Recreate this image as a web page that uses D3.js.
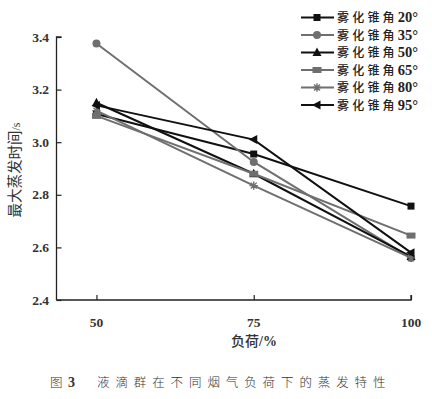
<!DOCTYPE html>
<html><head><meta charset="utf-8">
<script src="https://cdn.jsdelivr.net/npm/d3@7"></script>
<style>body{margin:0;background:#fff;}svg{display:block;}</style>
</head><body><div id="c"></div>
<script>
const loads = [50, 75, 100];
const seriesPrefix = "雾化锥角";
const seriesAngles = ["20°","35°","50°","65°","80°","95°"];
const v20 = [3.107, 2.955, 2.757];
const v35 = [3.375, 2.925, 2.56];
const v50 = [3.15, 2.88, 2.565];
const v65 = [3.10, 2.88, 2.645];
const v80 = [3.12, 2.835, 2.56];
const v95 = [3.14, 3.01, 2.58];
const yTicks = [2.4, 2.6, 2.8, 3.0, 3.2, 3.4];
const xTicks = [50, 75, 100];
const seriesValues = [v20, v35, v50, v65, v80, v95];
const colors = ["#111","#6f6f6f","#111","#6f6f6f","#6f6f6f","#111"];
const markers = ["square","circle","triUp","rect","star","triLeft"];

const W = 432, H = 399;
const svg = d3.select("#c").append("svg").attr("width", W).attr("height", H);
const x = d3.scaleLinear().domain([43.65, 100]).range([56.5, 411]);
const y = d3.scaleLinear().domain([2.4, 3.4]).range([300, 37]);
const font = "'Liberation Serif','Noto Sans CJK SC',serif";
const cjk = "'Noto Sans CJK SC','Liberation Serif',serif";

// axes
const gy = svg.append("g").attr("transform", "translate(56.5,0)")
  .call(d3.axisRight(y).tickValues(yTicks).tickSize(5).tickFormat(""));
gy.select(".domain").attr("d", `M5,${y(3.4)}H0V${y(2.4)}`).attr("stroke","#222").attr("stroke-width",1.3);
gy.selectAll(".tick line").attr("stroke","#222").attr("stroke-width",1.2);
svg.append("g").selectAll("text").data(yTicks).join("text")
  .attr("x", 49).attr("y", d => y(d) + 4.5).attr("text-anchor","end")
  .attr("font-family", font).attr("font-size", 13.5).attr("font-weight","bold").attr("fill","#333")
  .text(d => d.toFixed(1));

const gx = svg.append("g").attr("transform", "translate(0,300)")
  .call(d3.axisTop(x).tickValues(xTicks).tickSize(5).tickFormat(""));
gx.select(".domain").attr("d", `M56.5,0H${x(100)}V-5`).attr("stroke","#222").attr("stroke-width",1.3);
gx.selectAll(".tick line").attr("stroke","#222").attr("stroke-width",1.2);
svg.append("g").selectAll("text").data(xTicks).join("text")
  .attr("x", d => x(d)).attr("y", 327).attr("text-anchor","middle")
  .attr("font-family", font).attr("font-size", 13.5).attr("font-weight","bold").attr("fill","#333")
  .text(d => d);

const xt = svg.append("text").attr("x", 254).attr("y", 346).attr("text-anchor","middle")
  .attr("font-family", cjk).attr("font-size", 14).attr("fill","#333");
xt.append("tspan").attr("font-weight","500").text("负荷");
xt.append("tspan").attr("font-family", font).attr("font-weight","bold").text("/%");

const yt = svg.append("text").attr("transform","translate(20,170) rotate(-90)").attr("text-anchor","middle")
  .attr("font-family", cjk).attr("font-size", 14.5).attr("fill","#333");
yt.append("tspan").text("最大蒸发时间");
yt.append("tspan").attr("font-family", font).attr("font-size", 12).text("/s");

const cap = svg.append("text").attr("x", 50).attr("y", 387)
  .attr("font-family", cjk).attr("font-size", 12.5).attr("font-weight","300").attr("fill","#333");
cap.append("tspan").text("图");
cap.append("tspan").attr("x", 68).attr("font-family", font).attr("font-weight","bold").attr("font-size", 14).text("3");
cap.append("tspan").attr("x", 97).attr("letter-spacing", 5.9).text("液滴群在不同烟气负荷下的蒸发特性");

// asterisk symbol
const asterisk = { draw(ctx, size) { const r = Math.sqrt(size)/1.6;
  for (let i=0;i<4;i++){ const a=i*Math.PI/4; ctx.moveTo(-r*Math.cos(a),-r*Math.sin(a)); ctx.lineTo(r*Math.cos(a), r*Math.sin(a)); } } };

function drawMarker(g, type, cx, cy, color) {
  const s = 3.5;
  if (type === "square") g.append("rect").attr("x", cx-s).attr("y", cy-s).attr("width", 2*s).attr("height", 2*s).attr("fill", color);
  else if (type === "rect") g.append("rect").attr("x", cx-4.5).attr("y", cy-3).attr("width", 9).attr("height", 6).attr("fill", color);
  else if (type === "circle") g.append("circle").attr("cx", cx).attr("cy", cy).attr("r", 4).attr("fill", color);
  else if (type === "triUp") g.append("path").attr("d", `M${cx},${cy-5}L${cx+4.5},${cy+3.5}L${cx-4.5},${cy+3.5}Z`).attr("fill", color);
  else if (type === "triLeft") g.append("path").attr("d", `M${cx-5},${cy}L${cx+3.5},${cy-4.5}L${cx+3.5},${cy+4.5}Z`).attr("fill", color);
  else if (type === "star") g.append("path").attr("d", d3.symbol(asterisk, 45)()).attr("transform", `translate(${cx},${cy})`)
    .attr("fill","none").attr("stroke", color).attr("stroke-width", 1.4);
}

const line = d3.line().x((d,i) => x(loads[i])).y(d => y(d));
seriesValues.forEach((vals, si) => {
  const g = svg.append("g");
  g.append("path").attr("d", line(vals)).attr("fill","none").attr("stroke", colors[si]).attr("stroke-width", 2);
  vals.forEach((v, i) => drawMarker(g, markers[si], x(loads[i]), y(v), colors[si]));
});

// legend
const lg = svg.append("g");
seriesAngles.forEach((ang, i) => {
  const ly = 17.5 + i * 17.5;
  lg.append("line").attr("x1", 301).attr("x2", 334).attr("y1", ly).attr("y2", ly).attr("stroke", colors[i]).attr("stroke-width", 2);
  drawMarker(lg, markers[i], 317, ly, colors[i]);
  const t = lg.append("text").attr("x", 337).attr("y", ly + 4.8).attr("font-family", cjk).attr("font-size", 12).attr("fill","#222");
  t.append("tspan").attr("font-weight","500").attr("letter-spacing", 3.2).text(seriesPrefix);
  t.append("tspan").attr("font-family", font).attr("font-weight","bold").attr("font-size", 14.5).text(ang);
});
</script></body></html>
